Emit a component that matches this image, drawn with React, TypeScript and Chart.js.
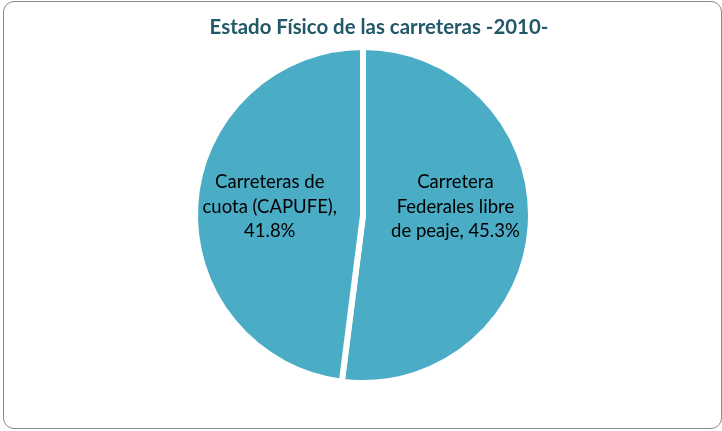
import React, { useEffect, useRef } from "react";
import { Chart, registerables } from "chart.js";

Chart.register(...registerables);

const chartTitle = "Estado Físico de las carreteras -2010-";
const categories = ["Carretera Federales libre de peaje", "Carreteras de cuota (CAPUFE)"];
const categoryLines = [
  ["Carretera", "Federales libre", "de peaje"],
  ["Carreteras de", "cuota (CAPUFE)"],
];
const valueOnNewLine = [false, true];
const values = [45.3, 41.8];

const FONT = "Lato, 'Open Sans', sans-serif";

const labelPlugin = {
  id: "sliceLabels",
  afterDraw(chart: any) {
    const ctx = chart.ctx;
    const meta = chart.getDatasetMeta(0);
    ctx.save();
    // title
    ctx.font = `bold 20.4px ${FONT}`;
    ctx.fillStyle = "#215968";
    ctx.textAlign = "center";
    ctx.textBaseline = "middle";
    ctx.fillText(chartTitle, 379, 27);

    ctx.font = `18.5px ${FONT}`;
    ctx.fillStyle = "#000000";
    meta.data.forEach((arc: any, i: number) => {
      const p = arc.getProps(["x", "y", "startAngle", "endAngle", "outerRadius"], true);
      const mid = (p.startAngle + p.endAngle) / 2;
      const r = p.outerRadius;
      const sx = Math.cos(mid) >= 0 ? 1 : -1;
      const lx = p.x + (sx > 0 ? 0.55 : 0.555) * sx * r;
      const ly = p.y - 0.05 * r;
      const lines = categoryLines[i].slice();
      const v = `${values[i].toFixed(1)}%`;
      if (valueOnNewLine[i]) {
        lines[lines.length - 1] = lines[lines.length - 1] + ",";
        lines.push(v);
      } else {
        lines[lines.length - 1] = lines[lines.length - 1] + ", " + v;
      }
      const lh = 24.5;
      const y0 = ly - ((lines.length - 1) * lh) / 2;
      lines.forEach((t, k) => ctx.fillText(t, lx, y0 + k * lh));
    });
    ctx.restore();
  },
};

export default function App() {
  const ref = useRef<HTMLCanvasElement | null>(null);
  useEffect(() => {
    if (!ref.current) return;
    const chart = new Chart(ref.current, {
      type: "pie",
      data: {
        labels: categories,
        datasets: [
          {
            data: values,
            backgroundColor: ["#4BACC6", "#4BACC6"],
            borderColor: "#FFFFFF",
            borderWidth: 6,
          },
        ],
      },
      options: {
        animation: false,
        responsive: false,
        layout: { padding: { top: 44, bottom: 45, left: 4, right: 0 } },
        plugins: {
          legend: { display: false },
          title: { display: false },
          tooltip: { enabled: false },
        },
      },
      plugins: [labelPlugin],
    });
    return () => chart.destroy();
  }, []);
  return (
    <div style={{ position: "fixed", left: 0, top: 0, width: 722, height: 431, background: "#fff" }}>
      <div
        style={{
          position: "absolute",
          left: 3,
          top: 1,
          width: 719,
          height: 428,
          boxSizing: "border-box",
          border: "1px solid #8a8a8a",
          borderRadius: 11,
        }}
      />
      <canvas ref={ref} width={722} height={431} style={{ position: "absolute", left: 0, top: 0 }} />
    </div>
  );
}
